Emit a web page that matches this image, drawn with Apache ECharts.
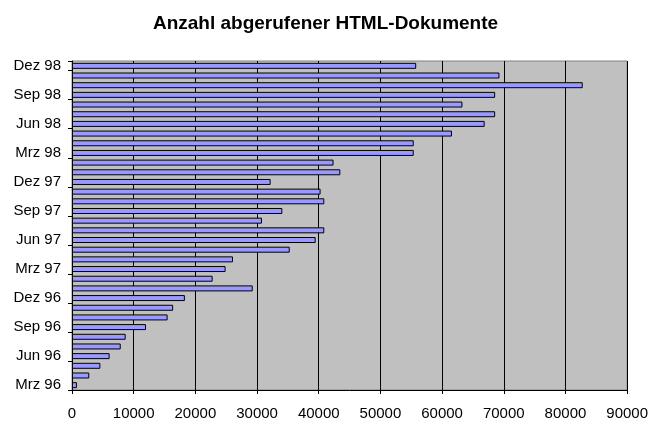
<!DOCTYPE html>
<html>
<head>
<meta charset="utf-8">
<script src="https://cdn.jsdelivr.net/npm/echarts@6/dist/echarts.min.js"></script>
<style>
html,body{margin:0;padding:0;background:#fff;}
#chart{width:651px;height:422px;}
</style>
</head>
<body>
<div id="chart"></div>
<script>
var title = 'Anzahl abgerufener HTML-Dokumente';
var months = ['Mrz 96','Apr 96','Mai 96','Jun 96','Jul 96','Aug 96','Sep 96','Okt 96','Nov 96','Dez 96',
  'Jan 97','Feb 97','Mrz 97','Apr 97','Mai 97','Jun 97','Jul 97','Aug 97','Sep 97','Okt 97','Nov 97','Dez 97',
  'Jan 98','Feb 98','Mrz 98','Apr 98','Mai 98','Jun 98','Jul 98','Aug 98','Sep 98','Okt 98','Nov 98','Dez 98'];
var documents = [800, 2800, 4600, 6100, 7900, 8700, 12000, 15500, 16400, 18300,
  29300, 22800, 24900, 26100, 35300, 39500, 40900, 30800, 34100, 40900, 40300, 32200,
  43500, 42400, 55400, 55400, 61600, 66900, 68600, 63300, 68600, 82800, 69300, 55800];
var xMin = 0, xMax = 90000, xStep = 10000;

var chart = echarts.init(document.getElementById('chart'), null, {renderer: 'canvas'});
var font = '"Liberation Sans", Arial, sans-serif';
chart.setOption({
  animation: false,
  backgroundColor: '#ffffff',
  title: {
    text: title,
    left: 'center',
    top: 9,
    textStyle: {fontFamily: font, fontSize: 19, fontWeight: 'bold', color: '#000'}
  },
  grid: {
    left: 72, right: 22, top: 61, bottom: 32,
    show: true, backgroundColor: '#c0c0c0', borderColor: '#808080', borderWidth: 1
  },
  xAxis: {
    type: 'value', min: xMin, max: xMax, interval: xStep,
    axisLine: {show: true, lineStyle: {color: '#000', width: 1}},
    axisTick: {show: true, length: 4, lineStyle: {color: '#000'}},
    axisLabel: {fontFamily: font, fontSize: 15, color: '#000', margin: 16,
      formatter: function (v) { return String(v); }},
    splitLine: {show: true, lineStyle: {color: '#000', width: 1}}
  },
  yAxis: {
    type: 'category', data: months,
    axisLine: {show: true, lineStyle: {color: '#000', width: 1}},
    axisTick: {show: true, length: 4, interval: 2, lineStyle: {color: '#000'}},
    axisLabel: {fontFamily: font, fontSize: 15, color: '#000', interval: 2, margin: 11},
    splitLine: {show: false}
  },
  series: [{
    type: 'bar',
    data: documents,
    barWidth: 6,
    itemStyle: {color: '#9999ff', borderColor: '#000', borderWidth: 1}
  }]
});
</script>
</body>
</html>
